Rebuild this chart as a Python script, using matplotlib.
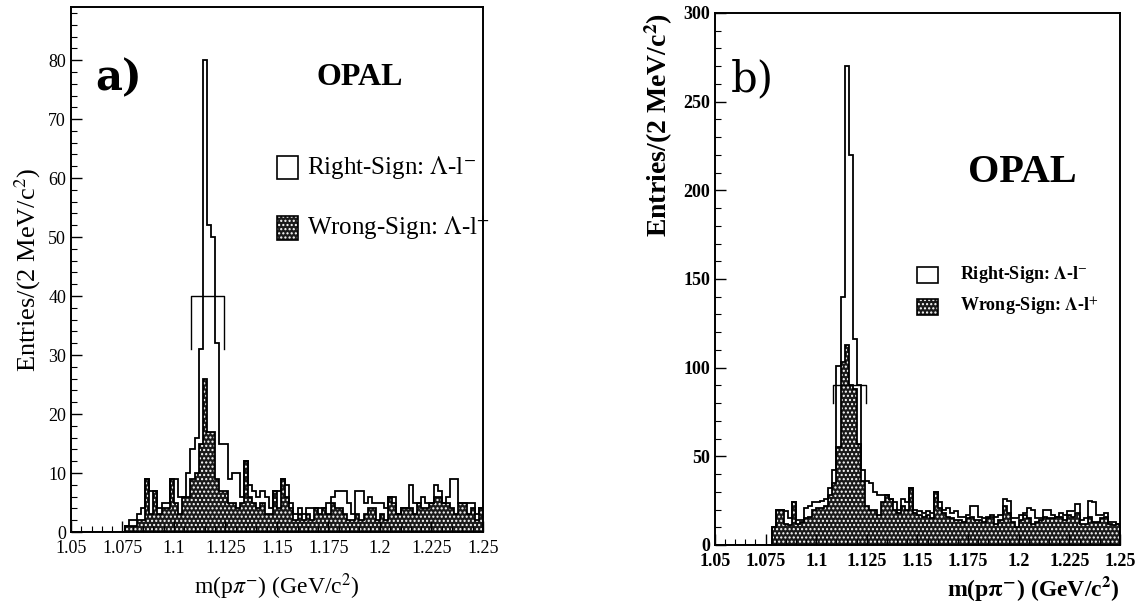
import numpy as np
import matplotlib.pyplot as plt
from matplotlib.ticker import MultipleLocator

plt.rcParams['font.family'] = ['Liberation Serif', 'DejaVu Serif']
plt.rcParams['mathtext.fontset'] = 'stix'
plt.rcParams['hatch.linewidth'] = 1.0

# 2 MeV bins from 1.05 to 1.25 GeV
bin_edges = np.linspace(1.05, 1.25, 101)

# panel a) counts per bin
rs_a = [0, 0, 0, 0, 0, 0, 0, 0, 0, 0, 0, 0, 0,
        1, 2, 2, 3, 4, 9, 7, 7, 4, 5, 5, 9, 9, 6, 6, 10, 14,
        16, 31, 80, 52, 50, 32, 15, 15, 9, 10, 10, 6, 12, 8, 7, 6, 7, 6, 4, 7,
        7, 9, 8, 5, 3, 4, 3, 4, 4, 4, 4, 4, 5, 6, 7, 7, 7, 5, 3, 7,
        7, 5, 6, 5, 5, 5, 4, 6, 6, 3, 4, 4, 8, 5, 5, 6, 5, 5, 8, 7,
        5, 6, 9, 9, 5, 5, 5, 5, 3, 4]
ws_a = [0, 0, 0, 0, 0, 0, 0, 0, 0, 0, 0, 0, 0,
        1, 1, 1, 2, 2, 9, 3, 7, 3, 4, 4, 9, 5, 3, 6, 6, 9,
        10, 15, 26, 17, 17, 9, 7, 7, 5, 5, 4, 5, 12, 6, 5, 4, 5, 3, 3, 7,
        4, 9, 6, 4, 2, 3, 2, 3, 2, 4, 3, 4, 3, 5, 4, 4, 3, 2, 2, 3,
        2, 3, 4, 4, 2, 3, 2, 6, 5, 3, 4, 4, 4, 3, 5, 4, 4, 5, 6, 6,
        5, 5, 4, 3, 5, 5, 3, 4, 2, 4]

# panel b) counts per bin
rs_b = [0, 0, 0, 0, 0, 0, 0, 0, 0, 0, 0, 0, 0, 0,
        10, 20, 20, 19, 15, 24, 14, 14, 21, 22, 24, 24, 25, 26, 32, 42,
        101, 140, 270, 220, 116, 90, 42, 36, 35, 30, 28, 28, 28, 26, 24, 20,
        26, 24, 32, 20, 19, 18, 19, 18, 30, 24, 20, 21, 18, 19, 16, 16,
        17, 22, 22, 16, 15, 16, 17, 16, 17, 26, 25, 15, 15, 17, 18, 21,
        20, 15, 15, 20, 20, 17, 16, 18, 17, 19, 19, 23, 14, 15, 25, 24,
        17, 17, 18, 13, 13, 12]
ws_b = [0, 0, 0, 0, 0, 0, 0, 0, 0, 0, 0, 0, 0, 0,
        10, 20, 20, 12, 11, 24, 12, 13, 15, 16, 20, 21, 21, 22, 28, 35,
        55, 103, 113, 90, 88, 57, 36, 22, 20, 20, 17, 24, 28, 26, 20, 18,
        22, 20, 32, 18, 17, 16, 17, 15, 30, 21, 18, 16, 15, 14, 14, 13,
        15, 16, 14, 14, 13, 15, 16, 12, 14, 22, 18, 13, 10, 14, 17, 15,
        12, 13, 14, 16, 15, 15, 16, 16, 14, 17, 16, 18, 12, 12, 16, 13,
        13, 15, 16, 12, 11, 12]

# signal window bracket
window = [1.1085, 1.1245]
bracket_a = [40, 31]
bracket_b = [90, 80]

xtick_vals = [1.05, 1.075, 1.1, 1.125, 1.15, 1.175, 1.2, 1.225, 1.25]
xtick_labels = ['1.05', '1.075', '1.1', '1.125', '1.15', '1.175', '1.2', '1.225', '1.25']

fig = plt.figure(figsize=(11.41, 6.06), dpi=100)
ax_a = fig.add_axes([0.0622, 0.1221, 0.3611, 0.8663])
ax_b = fig.add_axes([0.6266, 0.1007, 0.3550, 0.8779])


def draw_panel(ax, rs, ws, bracket, bold):
    ax.stairs(ws, bin_edges, fill=True, facecolor='#1a1a1a', edgecolor='white',
              hatch='....', linewidth=0)
    ax.stairs(ws, bin_edges, color='black', linewidth=1.3)
    ax.stairs(rs, bin_edges, color='black', linewidth=1.3)
    ax.plot([window[0], window[0], window[1], window[1]],
            [bracket[1], bracket[0], bracket[0], bracket[1]],
            color='black', linewidth=1.0)
    ax.set_xlim(1.05, 1.25)
    ax.set_xticks(xtick_vals)
    ax.set_xticklabels(xtick_labels)
    ax.xaxis.set_minor_locator(MultipleLocator(0.005))
    ax.tick_params(which='both', direction='in', top=False, right=False)
    ax.tick_params(which='major', length=8, width=1.0)
    ax.tick_params(which='minor', length=4, width=0.8)
    ax.tick_params(axis='x', pad=6)
    for sp in ax.spines.values():
        sp.set_linewidth(1.4)
    weight = 'bold' if bold else 'normal'
    for lab in ax.get_xticklabels() + ax.get_yticklabels():
        lab.set_fontweight(weight)
        lab.set_fontsize(13)


def legend_box(ax, x, y, w, h, filled):
    if filled:
        r = plt.Rectangle((x, y), w, h, transform=ax.transAxes, facecolor='#1a1a1a',
                          edgecolor='white', hatch='....', linewidth=0)
        ax.add_patch(r)
    r2 = plt.Rectangle((x, y), w, h, transform=ax.transAxes, facecolor='none',
                       edgecolor='black', linewidth=1.2)
    ax.add_patch(r2)


# ---- panel a
draw_panel(ax_a, rs_a, ws_a, bracket_a, False)
ax_a.set_ylim(0, 89)
ax_a.yaxis.set_major_locator(MultipleLocator(10))
ax_a.yaxis.set_minor_locator(MultipleLocator(2))
ax_a.set_ylabel(r'Entries/(2 MeV/c$^2$)', fontsize=19, labelpad=4)
ax_a.set_xlabel(r'm(p$\pi^{-}$) (GeV/c$^2$)', fontsize=17, labelpad=10)
ax_a.text(0.06, 0.865, 'a)', transform=ax_a.transAxes, fontsize=30,
          fontweight='bold', family='DejaVu Serif', va='center')
ax_a.text(0.70, 0.865, 'OPAL', transform=ax_a.transAxes, fontsize=23,
          fontweight='bold', ha='center', va='center')
legend_box(ax_a, 0.50, 0.672, 0.052, 0.045, False)
legend_box(ax_a, 0.50, 0.556, 0.052, 0.045, True)
ax_a.text(0.572, 0.695, r'Right-Sign: $\Lambda$-l$^{-}$', transform=ax_a.transAxes,
          fontsize=18, va='center')
ax_a.text(0.572, 0.579, r'Wrong-Sign: $\Lambda$-l$^{+}$', transform=ax_a.transAxes,
          fontsize=18, va='center')

# ---- panel b
draw_panel(ax_b, rs_b, ws_b, bracket_b, True)
ax_b.set_ylim(0, 300)
ax_b.yaxis.set_major_locator(MultipleLocator(50))
ax_b.yaxis.set_minor_locator(MultipleLocator(10))
ax_b.set_ylabel(r'Entries/(2 MeV/c$^{\mathbf{2}}$)', fontsize=20, fontweight='bold',
                loc='top', labelpad=6)
ax_b.set_xlabel(r'm(p$\mathbf{\pi^{-}}$) (GeV/c$^{\mathbf{2}}$)', fontsize=17,
                fontweight='bold', loc='right', labelpad=3)
ax_b.text(0.04, 0.875, 'b)', transform=ax_b.transAxes, fontsize=30,
          family='DejaVu Serif', va='center')
ax_b.text(0.76, 0.70, 'OPAL', transform=ax_b.transAxes, fontsize=29,
          fontweight='bold', ha='center', va='center')
legend_box(ax_b, 0.50, 0.493, 0.05, 0.03, False)
legend_box(ax_b, 0.50, 0.432, 0.05, 0.03, True)
ax_b.text(0.605, 0.508, r'Right-Sign: $\mathbf{\Lambda}$-l$^{-}$', transform=ax_b.transAxes,
          fontsize=13, fontweight='bold', va='center')
ax_b.text(0.605, 0.447, r'Wrong-Sign: $\mathbf{\Lambda}$-l$^{+}$', transform=ax_b.transAxes,
          fontsize=13, fontweight='bold', va='center')

fig.savefig('out.png', dpi=100)
